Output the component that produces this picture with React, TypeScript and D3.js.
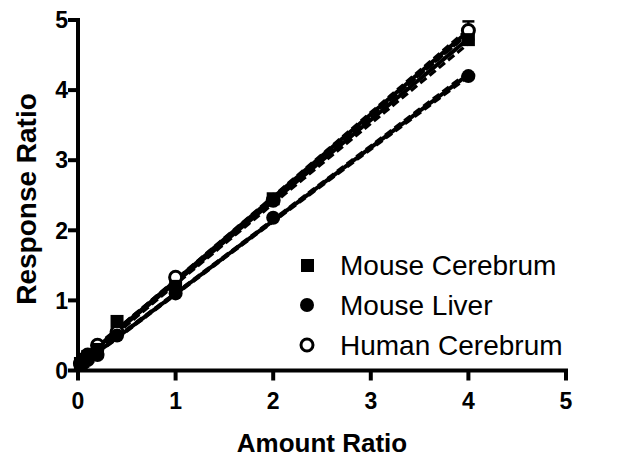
import React from "react";
import * as d3 from "d3";

const amounts = [0.025, 0.05, 0.1, 0.2, 0.4, 1, 2, 4];
const mouseCerebrum = [0.1, 0.13, 0.2, 0.3, 0.7, 1.2, 2.45, 4.72];
const mouseLiver = [0.08, 0.1, 0.15, 0.22, 0.5, 1.1, 2.18, 4.2];
const humanCerebrum = [0.1, 0.15, 0.22, 0.36, 0.55, 1.33, 2.43, 4.85];
const humanErr = [0, 0, 0, 0, 0, 0, 0, 0.13];
const replicates = 3;
const seriesNames = ["Mouse Cerebrum", "Mouse Liver", "Human Cerebrum"];
const xTicks = [0, 1, 2, 3, 4, 5];
const yTicks = [0, 1, 2, 3, 4, 5];

const W = 625, H = 460;
const x = d3.scaleLinear().domain([0, 5]).range([78, 566]);
const y = d3.scaleLinear().domain([0, 5]).range([370.5, 20]);

function fit(xs: number[], ys: number[]) {
  const n = xs.length;
  const mx = d3.mean(xs)!, my = d3.mean(ys)!;
  let sxx = 0, sxy = 0;
  xs.forEach((v, i) => { sxx += (v - mx) ** 2; sxy += (v - mx) * (ys[i] - my); });
  const b = sxy / sxx, a = my - b * mx;
  let sse = 0;
  xs.forEach((v, i) => { sse += (ys[i] - (a + b * v)) ** 2; });
  const s = Math.sqrt(sse / (n - 2));
  const N = n * replicates;
  const t = 2.074;
  const pts = d3.range(0, 4.0001, 0.05);
  const fitPts = pts.map(v => [v, a + b * v] as [number, number]);
  const ci = (v: number) => t * s * Math.sqrt(1 / N + (v - mx) ** 2 / (sxx * replicates));
  const up = pts.map(v => [v, a + b * v + ci(v)] as [number, number]);
  const lo = pts.map(v => [v, a + b * v - ci(v)] as [number, number]);
  return { fitPts, up, lo };
}

const line = d3.line<[number, number]>().x(d => x(d[0])).y(d => y(d[1]));

export default function App() {
  const series = [mouseCerebrum, mouseLiver, humanCerebrum];
  const fits = series.map(s => fit(amounts, s));
  const font = "Arial, 'Liberation Sans', Helvetica, sans-serif";
  return (
    <svg width={W} height={H} style={{ position: "absolute", left: 0, top: 0, background: "#fff" }} fontFamily={font}>
      {fits.map((f, i) => (
        <g key={"f" + i}>
          <path d={line(f.up)!} fill="none" stroke="#000" strokeWidth={3.2} strokeDasharray="8,4" />
          <path d={line(f.lo)!} fill="none" stroke="#000" strokeWidth={3.2} strokeDasharray="8,4" />
          <path d={line(f.fitPts)!} fill="none" stroke="#000" strokeWidth={4} />
        </g>
      ))}
      {amounts.map((a, i) => humanErr[i] > 0 ? (
        <g key={"e" + i} stroke="#000" strokeWidth={2.5}>
          <line x1={x(a)} x2={x(a)} y1={y(humanCerebrum[i] - humanErr[i])} y2={y(humanCerebrum[i] + humanErr[i])} />
          <line x1={x(a) - 6} x2={x(a) + 6} y1={y(humanCerebrum[i] + humanErr[i])} y2={y(humanCerebrum[i] + humanErr[i])} />
          <line x1={x(a) - 6} x2={x(a) + 6} y1={y(humanCerebrum[i] - humanErr[i])} y2={y(humanCerebrum[i] - humanErr[i])} />
        </g>
      ) : null)}
      {amounts.map((a, i) => (
        <circle key={"h" + i} cx={x(a)} cy={y(humanCerebrum[i])} r={6} fill="#fff" stroke="#000" strokeWidth={3} />
      ))}
      {amounts.map((a, i) => (
        <rect key={"s" + i} x={x(a) - 6.5} y={y(mouseCerebrum[i]) - 6.5} width={13} height={13} fill="#000" />
      ))}
      {amounts.map((a, i) => (
        <circle key={"l" + i} cx={x(a)} cy={y(mouseLiver[i])} r={7} fill="#000" />
      ))}
      <line x1={x(0)} x2={x(0)} y1={y(5) - 2} y2={y(0) + 2} stroke="#000" strokeWidth={4} />
      <line x1={x(0) - 2} x2={x(5) + 2} y1={y(0)} y2={y(0)} stroke="#000" strokeWidth={4} />
      {yTicks.map(t => (
        <g key={"yt" + t}>
          <line x1={x(0) - 10} x2={x(0)} y1={y(t)} y2={y(t)} stroke="#000" strokeWidth={4} />
          <text x={x(0) - 10} y={y(t)} dy="0.36em" textAnchor="end" fontSize={23} fontWeight="bold">{t}</text>
        </g>
      ))}
      {xTicks.map(t => (
        <g key={"xt" + t}>
          <line x1={x(t)} x2={x(t)} y1={y(0)} y2={y(0) + 10} stroke="#000" strokeWidth={4} />
          <text x={x(t)} y={409} textAnchor="middle" fontSize={23} fontWeight="bold">{t}</text>
        </g>
      ))}
      <text x={322} y={452} textAnchor="middle" fontSize={26} fontWeight="bold">Amount Ratio</text>
      <text transform="translate(36,199) rotate(-90)" textAnchor="middle" fontSize={28} fontWeight="bold">Response Ratio</text>
      <rect x={301} y={259} width={13} height={13} fill="#000" />
      <text x={340} y={275} fontSize={28}>{seriesNames[0]}</text>
      <circle cx={307} cy={305} r={7} fill="#000" />
      <text x={340} y={315} fontSize={28}>{seriesNames[1]}</text>
      <circle cx={307} cy={345} r={6} fill="#fff" stroke="#000" strokeWidth={3} />
      <text x={340} y={355} fontSize={28}>{seriesNames[2]}</text>
    </svg>
  );
}
